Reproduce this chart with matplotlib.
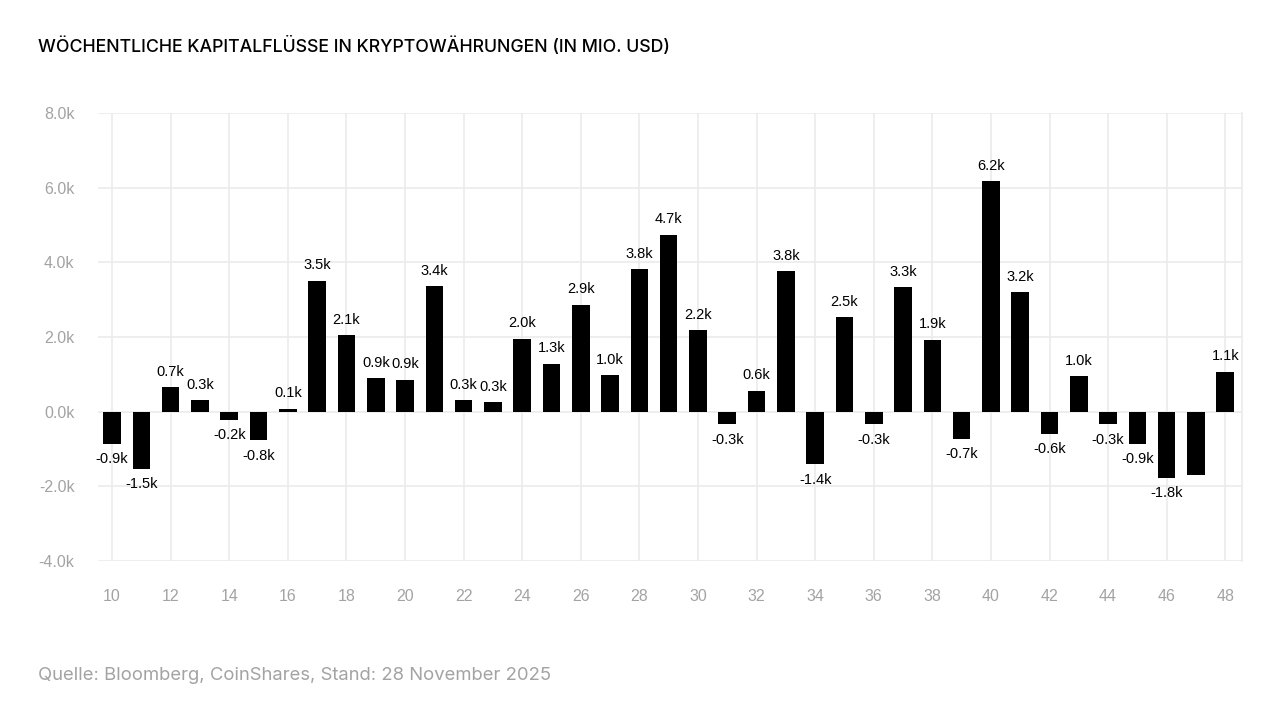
import matplotlib
matplotlib.use("Agg")
import matplotlib.pyplot as plt
from matplotlib.ticker import FuncFormatter, MultipleLocator

plt.rcParams["font.family"] = ["Liberation Sans", "DejaVu Sans"]

# Kalenderwochen 2025 und Flüsse in Mio. USD
weeks = list(range(10, 49))
flows = [
    -860, -1530, 660, 300, -210, -770, 80, 3510, 2050, 890,
    860, 3370, 300, 260, 1960, 1290, 2870, 980, 3810, 4740,
    2180, -340, 560, 3770, -1410, 2530, -340, 3340, 1930, -730,
    6170, 3210, -600, 960, -340, -860, -1780, -1700, 1070,
]
# Woche 47 hat in der Vorlage kein Label
bar_labels = [
    "-0.9k", "-1.5k", "0.7k", "0.3k", "-0.2k", "-0.8k", "0.1k", "3.5k", "2.1k", "0.9k",
    "0.9k", "3.4k", "0.3k", "0.3k", "2.0k", "1.3k", "2.9k", "1.0k", "3.8k", "4.7k",
    "2.2k", "-0.3k", "0.6k", "3.8k", "-1.4k", "2.5k", "-0.3k", "3.3k", "1.9k", "-0.7k",
    "6.2k", "3.2k", "-0.6k", "1.0k", "-0.3k", "-0.9k", "-1.8k", "", "1.1k",
]

title = "WÖCHENTLICHE KAPITALFLÜSSE IN KRYPTOWÄHRUNGEN (IN MIO. USD)"
source = "Quelle: Bloomberg, CoinShares, Stand: 28 November 2025"

GRID = "#ebebeb"
TICK = "#a3a3a3"

fig = plt.figure(figsize=(12.8, 7.2), dpi=100)
ax = fig.add_axes([0.0766, 0.2208, 0.8937, 0.6222])

ax.bar(weeks, flows, width=0.6, color="black", zorder=3)

for w, v, lab in zip(weeks, flows, bar_labels):
    if not lab:
        continue
    if v >= 0:
        ax.annotate(lab, (w, v), xytext=(0, 6), textcoords="offset points",
                    ha="center", va="bottom", fontsize=10.5, color="black")
    else:
        ax.annotate(lab, (w, v), xytext=(0, -6), textcoords="offset points",
                    ha="center", va="top", fontsize=10.5, color="black")

ax.set_ylim(-4000, 8000)
ax.set_xlim(9.52, 48.57)
ax.yaxis.set_major_locator(MultipleLocator(2000))
ax.xaxis.set_major_locator(MultipleLocator(2))
ax.yaxis.set_major_formatter(FuncFormatter(lambda v, p: f"{v / 1000:.1f}k"))
ax.xaxis.set_major_formatter(FuncFormatter(lambda v, p: f"{int(v)}"))

ax.grid(True, color=GRID, linewidth=1.2, zorder=0)
for s in ["left", "top", "bottom"]:
    ax.spines[s].set_visible(False)
ax.spines["right"].set_color(GRID)
ax.spines["right"].set_linewidth(1.2)

ax.tick_params(axis="both", length=0, colors=TICK, labelsize=11.5)
ax.tick_params(axis="y", pad=17)
ax.tick_params(axis="x", pad=20)

fig.text(0.0297, 0.936, title, fontsize=12.8, color="black", fontweight="medium",
         family=["Inter", "DejaVu Sans"], ha="left", va="center")
fig.text(0.0297, 0.0625, source, fontsize=13.3, color=TICK,
         family=["Inter", "DejaVu Sans"], ha="left", va="center")

fig.savefig("out.png", dpi=100)
